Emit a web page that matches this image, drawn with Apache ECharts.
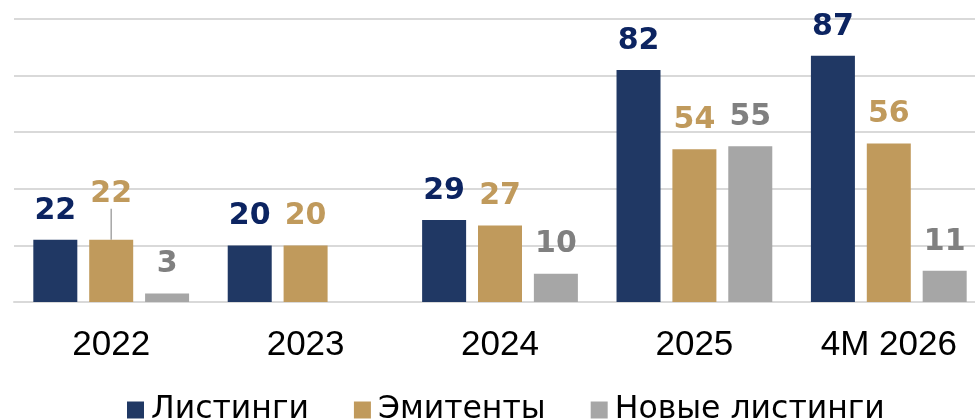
<!DOCTYPE html>
<html>
<head>
<meta charset="utf-8">
<title>Листинги</title>
<script src="https://cdn.jsdelivr.net/npm/echarts@6/dist/echarts.min.js"></script>
<style>
  html, body { margin: 0; padding: 0; background: #fff; }
  #chart { width: 975px; height: 420px; }
</style>
</head>
<body>
<div id="chart"></div>
<script>
// данные
var categories = ['2022', '2023', '2024', '2025', '4M 2026'];
var listings = [22, 20, 29, 82, 87];
var issuers = [22, 20, 27, 54, 56];
var newListings = [3, null, 10, 55, 11];

var yTicks = [0, 20, 40, 60, 80, 100];

var labelFont = '"DejaVu Sans", "Open Sans", sans-serif';

function barLabel(color) {
    return {
        show: true,
        position: 'top',
        distance: 14,
        color: color,
        fontFamily: labelFont,
        fontWeight: 'bold',
        fontSize: 30
    };
}

// у первой подписи "Эмитенты" (2022) есть выноска
var issuersData = issuers.map(function (v, i) {
    if (i === 0) {
        return { value: v, labelLine: { show: true } };
    }
    return v;
});

var myChart = echarts.init(document.getElementById('chart'));
myChart.setOption({
    animation: false,
    grid: { left: 14, width: 972, top: 19, bottom: 118, outerBoundsMode: 'none' },
    legend: {
        top: 389,
        left: 122,
        itemWidth: 17,
        itemHeight: 17,
        itemGap: 45,
        icon: 'rect',
        textStyle: { fontFamily: '"DejaVu Sans", sans-serif', fontSize: 31.5, color: '#000', padding: [0, 0, 0, 2] },
        data: ['Листинги', 'Эмитенты', 'Новые листинги']
    },
    xAxis: {
        type: 'category',
        data: categories,
        axisTick: { show: false },
        axisLine: { lineStyle: { color: '#d9d9d9', width: 2 } },
        axisLabel: { color: '#000', fontFamily: '"Liberation Sans", Arial, sans-serif', fontSize: 35, margin: 26 }
    },
    yAxis: {
        type: 'value',
        min: yTicks[0],
        max: yTicks[yTicks.length - 1],
        interval: 20,
        axisLabel: { show: false },
        axisLine: { show: false },
        axisTick: { show: false },
        splitLine: { lineStyle: { color: '#d9d9d9', width: 2 } }
    },
    series: [
        {
            name: 'Листинги',
            type: 'bar',
            data: listings,
            barWidth: 44,
            barGap: '27%',
            itemStyle: { color: '#203864' },
            label: barLabel('#0c2461')
        },
        {
            name: 'Эмитенты',
            type: 'bar',
            data: issuersData,
            barWidth: 44,
            barGap: '27%',
            itemStyle: { color: '#c09a5c' },
            label: barLabel('#c09a5c'),
            labelLine: { show: false, lineStyle: { color: '#a6a6a6', width: 1.5 } },
            labelLayout: function (params) {
                if (params.dataIndex === 0) {
                    return { dy: -17 };
                }
                return {};
            }
        },
        {
            name: 'Новые листинги',
            type: 'bar',
            data: newListings,
            barWidth: 44,
            barGap: '27%',
            itemStyle: { color: '#a6a6a6' },
            label: barLabel('#808080')
        }
    ]
});
</script>
</body>
</html>
